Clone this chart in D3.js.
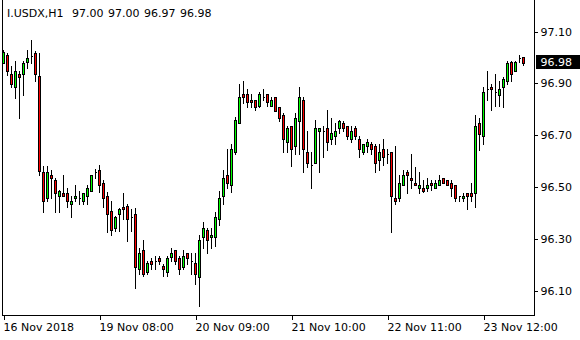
<!DOCTYPE html>
<html>
<head>
<meta charset="utf-8">
<script src="https://cdn.jsdelivr.net/npm/d3@7"></script>
<style>
  html, body { margin: 0; padding: 0; background: #fff; }
  svg { display: block; }
  text { font-family: "DejaVu Sans", sans-serif; font-size: 11px; fill: #000; }
</style>
</head>
<body>
<svg id="chart" width="580" height="340"></svg>
<script>
// I.USDX H1 candles (open, high, low, close)
var opens = [96.98,97.01,96.936,96.884,96.936,96.936,96.984,97.007,97.017,96.929,
  96.559,96.457,96.547,96.527,96.463,96.476,96.476,96.434,96.457,96.459,
  96.444,96.463,96.485,96.559,96.566,96.515,96.466,96.408,96.343,96.395,
  96.424,96.427,96.383,96.395,96.182,96.257,96.173,96.215,96.215,96.225,
  96.195,96.173,96.231,96.257,96.225,96.192,96.244,96.215,96.206,96.154,
  96.305,96.334,96.305,96.305,96.376,96.463,96.547,96.508,96.633,96.746,
  96.858,96.858,96.836,96.836,96.814,96.847,96.858,96.814,96.847,96.808,
  96.778,96.675,96.736,96.656,96.756,96.836,96.634,96.585,96.594,96.714,
  96.717,96.727,96.685,96.695,96.727,96.746,96.736,96.685,96.727,96.685,
  96.634,96.656,96.665,96.656,96.605,96.646,96.627,96.634,96.457,96.457,
  96.508,96.559,96.534,96.515,96.495,96.495,96.495,96.515,96.495,96.508,
  96.534,96.525,96.515,96.508,96.463,96.457,96.476,96.476,96.476,96.746,
  96.695,96.878,96.885,96.866,96.856,96.885,96.910,96.984,96.948,96.997,
  97.00];
var highs = [97.03,97.017,96.965,96.987,96.948,96.987,97.029,97.068,97.023,97.017,
  96.579,96.579,96.566,96.534,96.489,96.547,96.495,96.466,96.508,96.485,
  96.476,96.508,96.547,96.569,96.585,96.527,96.482,96.446,96.386,96.418,
  96.476,96.434,96.415,96.418,96.264,96.296,96.215,96.227,96.234,96.234,
  96.202,96.234,96.264,96.257,96.234,96.257,96.244,96.244,96.244,96.315,
  96.366,96.343,96.343,96.405,96.485,96.566,96.646,96.665,96.768,96.897,
  96.910,96.879,96.858,96.836,96.868,96.879,96.858,96.847,96.847,96.808,
  96.785,96.737,96.736,96.785,96.885,96.847,96.717,96.634,96.759,96.727,
  96.737,96.798,96.766,96.746,96.759,96.756,96.736,96.736,96.737,96.695,
  96.665,96.685,96.675,96.665,96.665,96.685,96.646,96.634,96.656,96.547,
  96.566,96.566,96.628,96.576,96.559,96.527,96.534,96.527,96.527,96.547,
  96.534,96.527,96.525,96.508,96.463,96.476,96.476,96.515,96.778,96.766,
  96.885,96.948,96.897,96.936,96.910,96.926,96.987,96.987,96.987,97.010,
  97.00];
var lows = [96.98,96.933,96.884,96.845,96.766,96.856,96.959,96.978,96.907,96.547,
  96.405,96.444,96.457,96.405,96.405,96.463,96.424,96.382,96.444,96.434,
  96.434,96.434,96.485,96.534,96.482,96.424,96.324,96.315,96.330,96.328,
  96.376,96.292,96.330,96.111,96.163,96.157,96.163,96.182,96.182,96.202,
  96.157,96.157,96.212,96.204,96.163,96.182,96.204,96.163,96.124,96.042,
  96.264,96.244,96.264,96.273,96.354,96.434,96.495,96.482,96.627,96.746,
  96.824,96.807,96.807,96.795,96.807,96.834,96.814,96.814,96.794,96.755,
  96.633,96.633,96.581,96.627,96.627,96.556,96.575,96.495,96.594,96.556,
  96.614,96.643,96.665,96.665,96.708,96.717,96.685,96.675,96.685,96.614,
  96.627,96.634,96.627,96.556,96.566,96.585,96.594,96.324,96.434,96.444,
  96.508,96.476,96.495,96.508,96.476,96.482,96.485,96.489,96.495,96.508,
  96.515,96.508,96.463,96.444,96.444,96.444,96.414,96.444,96.424,96.643,
  96.665,96.836,96.795,96.814,96.814,96.807,96.897,96.907,96.948,96.984,
  96.97];
var closes = [97.02,96.946,96.897,96.948,96.926,96.978,96.997,97.006,96.936,96.563,
  96.444,96.559,96.534,96.476,96.485,96.463,96.444,96.446,96.466,96.459,
  96.476,96.495,96.547,96.559,96.508,96.457,96.395,96.334,96.382,96.414,
  96.414,96.376,96.383,96.192,96.244,96.163,96.206,96.204,96.215,96.212,
  96.182,96.225,96.244,96.212,96.182,96.234,96.225,96.215,96.163,96.296,
  96.343,96.296,96.315,96.382,96.457,96.534,96.515,96.646,96.759,96.847,
  96.847,96.826,96.826,96.808,96.858,96.847,96.826,96.836,96.794,96.766,
  96.685,96.727,96.646,96.766,96.847,96.646,96.594,96.585,96.727,96.727,
  96.717,96.675,96.708,96.717,96.756,96.727,96.695,96.714,96.695,96.646,
  96.665,96.675,96.646,96.594,96.634,96.614,96.627,96.463,96.444,96.515,
  96.547,96.547,96.525,96.508,96.508,96.485,96.508,96.508,96.515,96.527,
  96.515,96.508,96.495,96.457,96.463,96.466,96.463,96.463,96.736,96.705,
  96.866,96.878,96.878,96.866,96.878,96.916,96.978,96.936,96.984,96.997,
  96.98];

// price axis and time axis labels
var priceTicks = [96.10, 96.30, 96.50, 96.70, 96.90, 97.10];
var timeTickBars = [0, 24, 48, 72, 96, 120];
var timeLabels = ["16 Nov 2018", "19 Nov 08:00", "20 Nov 09:00", "21 Nov 10:00", "22 Nov 11:00", "23 Nov 12:00"];
var symbol = "I.USDX,H1";
var lastPrice = 96.98;

var svg = d3.select("#chart");

var x = d3.scaleLinear().domain([0, 130]).range([3.5, 523.5]);
var y = d3.scaleLinear().domain([96.10, 97.10]).range([290.5, 31.5]);

function py(v) { return Math.round(y(v)) + 0.5; }

var candles = d3.range(opens.length).map(function (i) {
  return { i: i, o: opens[i], h: highs[i], l: lows[i], c: closes[i] };
});

// plot frame
var frame = svg.append("g").attr("shape-rendering", "crispEdges");
frame.append("line").attr("x1", 2.5).attr("x2", 2.5).attr("y1", 0).attr("y2", 316).attr("stroke", "#000");
frame.append("line").attr("x1", 534.5).attr("x2", 534.5).attr("y1", 0).attr("y2", 316).attr("stroke", "#000");
frame.append("line").attr("x1", 2).attr("x2", 535).attr("y1", 315.5).attr("y2", 315.5).attr("stroke", "#000");

// wicks
var g = svg.append("g").attr("shape-rendering", "crispEdges");
g.selectAll("line.wick").data(candles).enter().append("line")
  .attr("class", "wick")
  .attr("x1", function (d) { return x(d.i); })
  .attr("x2", function (d) { return x(d.i); })
  .attr("y1", function (d) { return py(d.h) - 0.5; })
  .attr("y2", function (d) { return py(d.l) + 0.5; })
  .attr("stroke", "#000");

// bodies (a path so flat doji bodies still draw)
g.selectAll("path.body").data(candles).enter().append("path")
  .attr("class", "body")
  .attr("d", function (d) {
    var top = py(Math.max(d.o, d.c)), bot = py(Math.min(d.o, d.c));
    var x0 = x(d.i) - 1;
    return "M" + x0 + "," + top + "h2V" + bot + "h-2Z";
  })
  .attr("fill", function (d) { return d.c >= d.o ? "#00ff00" : "#ff0000"; })
  .attr("stroke", "#000");

// right price axis
var yAxis = svg.append("g")
  .attr("transform", "translate(534.5,0)")
  .call(d3.axisRight(y).tickValues(priceTicks).tickSize(3).tickPadding(3)
    .tickFormat(d3.format(".2f")));
yAxis.select(".domain").remove();
yAxis.selectAll("line").attr("stroke", "#000").attr("shape-rendering", "crispEdges");
yAxis.selectAll("text").attr("font-family", null).attr("font-size", null).attr("fill", "#000");

// bottom time axis
var xAxis = svg.append("g")
  .attr("transform", "translate(0,315.5)")
  .call(d3.axisBottom(x).tickValues(timeTickBars).tickSize(4)
    .tickFormat(function (d, k) { return timeLabels[k]; }));
xAxis.select(".domain").remove();
xAxis.selectAll("line").attr("stroke", "#000").attr("shape-rendering", "crispEdges");
xAxis.selectAll("text").attr("font-family", null).attr("font-size", null).attr("fill", "#000")
  .attr("text-anchor", "start").attr("x", -0.5).attr("y", 8);

// last price marker
var ly = y(lastPrice);
svg.append("rect").attr("x", 536).attr("y", Math.round(ly) - 8).attr("width", 44).attr("height", 14).attr("fill", "#000");
svg.append("text").attr("x", 540.5).attr("y", ly).attr("dy", "0.32em").style("fill", "#fff")
  .text(d3.format(".2f")(lastPrice));

// header: symbol, then O H L C of the last bar
var last = candles[candles.length - 1];
var header = svg.append("g").attr("transform", "translate(7,16.5)");
header.append("text").text(symbol);
header.selectAll("text.ohlc").data([last.o, last.h, last.l, last.c]).enter().append("text")
  .attr("class", "ohlc")
  .attr("x", function (d, k) { return 65 + k * 36; })
  .text(d3.format(".2f"));
</script>
</body>
</html>
